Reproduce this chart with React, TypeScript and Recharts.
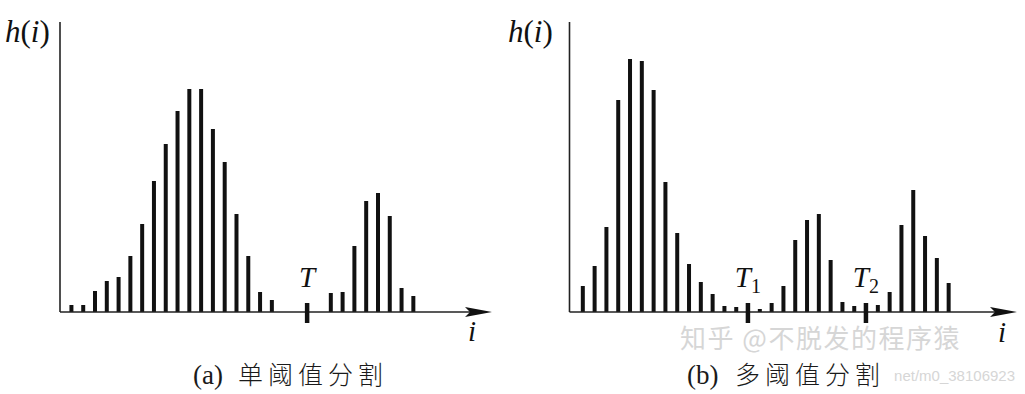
import { BarChart, Bar, XAxis, YAxis, ReferenceLine, ReferenceDot } from 'recharts'

// (a) single threshold histogram: bin index -> h(i)
const binsA = [0, 1, 2, 3, 4, 5, 6, 7, 8, 9, 10, 11, 12, 13, 14, 15, 16, 17, 22, 23, 24, 25, 26, 27, 28, 29]
const valuesA = [7, 7, 21, 31, 35, 56, 88, 131, 168, 201, 223, 223, 183, 150, 98, 56, 20, 12, 19, 20, 66, 111, 119, 96, 24, 16]
const thresholdsA = [20]
const thresholdSubsA = ['']

// (b) multi threshold histogram
const binsB = [0, 1, 2, 3, 4, 5, 6, 7, 8, 9, 10, 11, 12, 13, 15, 16, 17, 18, 19, 20, 21, 22, 23, 25, 26, 27, 28, 29, 30, 31]
const valuesB = [26, 46, 85, 212, 253, 251, 222, 130, 79, 48, 30, 18, 6, 5, 3, 9, 26, 72, 92, 98, 52, 10, 6, 7, 20, 87, 122, 76, 54, 29]
const thresholdsB = [14, 24]
const thresholdSubsB = ['1', '2']

const SERIF = '"Liberation Serif", "DejaVu Serif", serif'
const CJK = '"Noto Sans CJK SC", sans-serif'
const INK = '#111'
const Y_MAX = 290

const toRows = (bins: number[], values: number[]) => bins.map((i, k) => ({ i, h: values[k] }))

const Arrow = (p: any) => (
  <polygon
    points={`${p.cx},${p.cy} ${p.cx - 27},${p.cy - 5} ${p.cx - 22},${p.cy} ${p.cx - 27},${p.cy + 5}`}
    fill={INK}
  />
)

const thresholdLabel = (sub: string) => (p: any) => (
  <text x={p.cx} y={p.cy} textAnchor="middle" fontFamily={SERIF} fontSize={29} fill={INK}>
    <tspan fontStyle="italic">T</tspan>
    {sub && (
      <tspan fontSize={20} dy={6}>
        {sub}
      </tspan>
    )}
  </text>
)

type PanelProps = {
  bins: number[]
  values: number[]
  thresholds: number[]
  subs: string[]
  domain: [number, number]
  left: number
  width: number
  margin: { top: number; right: number; bottom: number; left: number }
}

function Panel({ bins, values, thresholds, subs, domain, left, width, margin }: PanelProps) {
  const rows = toRows(bins, values)
  return (
    <div style={{ position: 'absolute', left, top: 0 }}>
      <BarChart width={width} height={394} data={rows} margin={margin}>
        <XAxis dataKey="i" type="number" domain={domain} allowDataOverflow hide />
        <YAxis type="number" domain={[0, Y_MAX]} allowDataOverflow hide />
        {/* axes drawn as segments so they meet at the origin */}
        <ReferenceLine
          segment={[
            { x: domain[0], y: 0 },
            { x: domain[0], y: Y_MAX }
          ]}
          stroke="#222"
          strokeWidth={1.6}
          ifOverflow="visible"
        />
        <ReferenceLine
          segment={[
            { x: domain[0], y: 0 },
            { x: domain[1] - 1, y: 0 }
          ]}
          stroke="#222"
          strokeWidth={1.6}
          ifOverflow="visible"
        />
        <Bar dataKey="h" fill={INK} barSize={4} isAnimationActive={false} />
        {thresholds.map((t) => (
          <ReferenceLine
            key={'tick' + t}
            segment={[
              { x: t, y: -11 },
              { x: t, y: 9 }
            ]}
            stroke={INK}
            strokeWidth={4.5}
            ifOverflow="visible"
          />
        ))}
        {thresholds.map((t, k) => (
          <ReferenceDot key={'lbl' + t} x={t} y={25} ifOverflow="visible" shape={thresholdLabel(subs[k])} />
        ))}
        <ReferenceDot x={domain[1]} y={0} ifOverflow="visible" shape={Arrow} />
      </BarChart>
    </div>
  )
}

function HLabel({ x }: { x: number }) {
  return (
    <text x={x} y={42} fontFamily={SERIF} fontSize={31} fill={INK}>
      <tspan fontStyle="italic">h</tspan>(<tspan fontStyle="italic">i</tspan>)
    </text>
  )
}

export default function App() {
  return (
    <div style={{ position: 'absolute', left: 0, top: 0, width: 1025, height: 394, background: '#fff', overflow: 'hidden' }}>
      <Panel
        bins={binsA}
        values={valuesA}
        thresholds={thresholdsA}
        subs={thresholdSubsA}
        domain={[-0.96, 35.68]}
        left={0}
        width={510}
        margin={{ top: 22, right: 18, bottom: 82, left: 60 }}
      />
      <Panel
        bins={binsB}
        values={valuesB}
        thresholds={thresholdsB}
        subs={thresholdSubsB}
        domain={[-1.12, 36.8]}
        left={510}
        width={515}
        margin={{ top: 22, right: 8, bottom: 82, left: 59.5 }}
      />
      <svg width={1025} height={394} style={{ position: 'absolute', left: 0, top: 0, pointerEvents: 'none' }}>
        <HLabel x={5} />
        <HLabel x={508} />
        <text x={472} y={341} textAnchor="middle" fontFamily={SERIF} fontSize={29} fontStyle="italic" fill={INK}>
          i
        </text>
        <text x={1002} y={342} textAnchor="middle" fontFamily={SERIF} fontSize={29} fontStyle="italic" fill={INK}>
          i
        </text>
        {/* watermark */}
        <text x={680} y={348} fontFamily={CJK} fontSize={26} letterSpacing={1.5} fill="#d6d6d6">
          知乎 @不脱发的程序猿
        </text>
        <text x={1015} y={381} textAnchor="end" fontFamily='"Liberation Sans", sans-serif' fontSize={15} fill="#d6d6d6">
          net/m0_38106923
        </text>
        <text x={193} y={384} fontFamily={SERIF} fontSize={27} fill="#1a1a1a">
          (a)
        </text>
        <text x={238} y={384} fontFamily={CJK} fontSize={25} fontWeight={300} letterSpacing={5} fill="#1a1a1a">
          单阈值分割
        </text>
        <text x={687} y={384} fontFamily={SERIF} fontSize={27} fill="#1a1a1a">
          (b)
        </text>
        <text x={735} y={384} fontFamily={CJK} fontSize={25} fontWeight={300} letterSpacing={5} fill="#1a1a1a">
          多阈值分割
        </text>
      </svg>
    </div>
  )
}
